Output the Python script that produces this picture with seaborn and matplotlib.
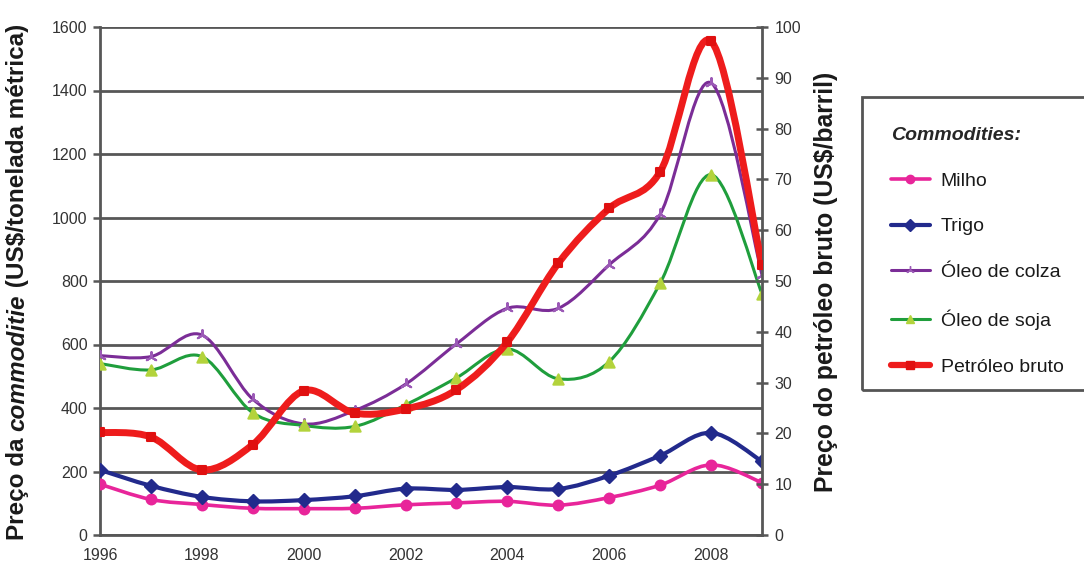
import numpy as np
import pandas as pd
import matplotlib
matplotlib.use("Agg")
import matplotlib.pyplot as plt
import seaborn as sns
from matplotlib.path import Path
from matplotlib.patches import PathPatch, Rectangle
from matplotlib.lines import Line2D

# ---------------- data ----------------
years = [1996, 1997, 1998, 1999, 2000, 2001, 2002, 2003, 2004, 2005, 2006, 2007, 2008, 2009]
milho = [160, 112, 96, 84, 83, 84, 95, 101, 106, 94, 118, 157, 221, 165]
trigo = [205, 155, 120, 106, 110, 122, 146, 142, 151, 145, 187, 250, 322, 232]
oleo_colza = [565, 562, 630, 428, 350, 392, 475, 602, 714, 714, 851, 1010, 1424, 819]
oleo_soja = [540, 520, 562, 385, 345, 342, 410, 495, 586, 492, 546, 793, 1135, 760]
petroleo = [20.2, 19.3, 12.8, 17.8, 28.4, 24.0, 24.8, 28.6, 38.0, 53.5, 64.3, 71.5, 97.2, 53.2]

labels = ["Milho", "Trigo", "Óleo de colza", "Óleo de soja", "Petróleo bruto"]
x_ticks = [1996, 1998, 2000, 2002, 2004, 2006, 2008]
left_ticks = [0, 200, 400, 600, 800, 1000, 1200, 1400, 1600]
right_ticks = [0, 10, 20, 30, 40, 50, 60, 70, 80, 90, 100]

# ---------------- style ----------------
sns.set_theme(style="white")
plt.rcParams['font.family'] = ['Liberation Sans', 'DejaVu Sans']

W, H = 1084, 577
fig = plt.figure(figsize=(W / 100, H / 100), dpi=100)
fig.patch.set_facecolor("white")
ax = fig.add_axes([100 / W, 1 - 535 / H, 662 / W, 508 / H])
ax2 = ax.twinx()

grid_c = "#575757"
tick_c = "#333333"


def smooth_path(x, y):
    """Smooth curve through the data points (Catmull-Rom as cubic Beziers)."""
    x = np.asarray(x, float)
    y = np.asarray(y, float)
    px = np.concatenate([[x[0]], x, [x[-1]]])
    py = np.concatenate([[y[0]], y, [y[-1]]])
    verts = [(x[0], y[0])]
    codes = [Path.MOVETO]
    for i in range(len(x) - 1):
        c1 = (px[i + 1] + (px[i + 2] - px[i]) / 6.0, py[i + 1] + (py[i + 2] - py[i]) / 6.0)
        c2 = (px[i + 2] - (px[i + 3] - px[i + 1]) / 6.0, py[i + 2] - (py[i + 3] - py[i + 1]) / 6.0)
        verts += [c1, c2, (px[i + 2], py[i + 2])]
        codes += [Path.CURVE4] * 3
    return Path(verts, codes)


df = pd.DataFrame({"ano": years, "Milho": milho, "Trigo": trigo,
                   "Óleo de colza": oleo_colza, "Óleo de soja": oleo_soja,
                   "Petróleo bruto": petroleo})

series = [
    # name, axis, line colour, lw, marker, marker face, marker edge, size
    ("Milho", ax, "#e8259a", 2.6, "o", "#e8259a", "#e8259a", 50),
    ("Trigo", ax, "#222a8c", 3.0, "D", "#222a8c", "#222a8c", 45),
    ("Óleo de colza", ax, "#7b2d97", 2.2, (3, 2, 0), "#9b59b6", "#9b59b6", 60),
    ("Óleo de soja", ax, "#1f9e3c", 2.2, "^", "#b3d33c", "#b3d33c", 55),
    ("Petróleo bruto", ax2, "#ee1c1c", 5.0, "s", "#e01010", "#e01010", 28),
]

for name, a, col, lw, mk, mfc, mec, ms in series:
    a.add_patch(PathPatch(smooth_path(df["ano"], df[name]), facecolor="none",
                          edgecolor=col, lw=lw, zorder=3, capstyle="round",
                          joinstyle="round"))
    sns.scatterplot(data=df, x="ano", y=name, ax=a, marker=mk, s=ms,
                    color=mfc, edgecolor=mec, linewidth=1.5, zorder=4, legend=False)

# ---------------- axes ----------------
ax.set_xlim(1996, 2009)
ax.set_ylim(0, 1600)
ax2.set_ylim(0, 100)
ax.set_xticks(x_ticks)
ax.set_xticklabels([str(t) for t in x_ticks])
ax.set_yticks(left_ticks)
ax.set_yticklabels([str(t) for t in left_ticks])
ax2.set_yticks(right_ticks)
ax2.set_yticklabels([str(t) for t in right_ticks])
ax.set_xlabel("")
ax.set_ylabel("")
ax2.set_ylabel("")

ax.yaxis.grid(True, color=grid_c, lw=2.0, zorder=0)
ax.xaxis.grid(False)
ax.set_axisbelow(True)

for a in (ax, ax2):
    a.spines["top"].set_visible(False)
    for s in ("left", "bottom", "right"):
        a.spines[s].set_color(grid_c)
        a.spines[s].set_linewidth(2.0)
ax.spines["right"].set_visible(False)
ax2.spines["left"].set_visible(False)
ax2.spines["bottom"].set_visible(False)

ax.tick_params(axis="both", which="major", labelsize=11.5, labelcolor=tick_c,
               color=grid_c, width=1.8, length=5, direction="out")
ax.tick_params(axis="x", pad=4)
ax.tick_params(axis="y", pad=4)
ax2.tick_params(axis="y", which="major", labelsize=11.5, labelcolor=tick_c,
                color=grid_c, width=1.8, length=8, direction="inout", pad=5)

# ---------------- axis titles ----------------
# left title built from three pieces so only "commoditie" is italic (all bold)
pieces = [("Preço da ", "normal"), ("commoditie", "italic"),
          (" (US$/tonelada métrica)", "normal")]
renderer = fig.canvas.get_renderer()
y_px = 540.0  # bottom end of the rotated title, in pixels from top
for txt, style in pieces:
    t = fig.text(18 / W, 1 - y_px / H, txt, rotation=90, ha="center", va="bottom",
                 fontsize=17.5, fontweight="bold", fontstyle=style,
                 color="#1a1a1a", parse_math=False, rotation_mode="default")
    ext = t.get_window_extent(renderer=renderer)
    y_px -= ext.height * 100.0 / fig.dpi - 0.0

fig.text(826 / W, 1 - 282 / H, "Preço do petróleo bruto (US$/barril)",
         rotation=90, ha="center", va="center", fontsize=17.8,
         fontweight="bold", color="#1a1a1a", parse_math=False)

# ---------------- legend ----------------
fig.add_artist(Rectangle((862 / W, 1 - 390 / H), (1110 - 862) / W, (390 - 97) / H,
                         transform=fig.transFigure, fill=False,
                         edgecolor="#555555", lw=2.0))

handles = []
for name, a, col, lw, mk, mfc, mec, ms in series:
    handles.append(Line2D([0], [0], color=col, lw=min(lw, 4.5), marker=mk,
                          markerfacecolor=mfc, markeredgecolor=mec, markersize=6))

leg = fig.legend(handles, labels, loc="upper left",
                 bbox_to_anchor=(883 / W, 1 - 119 / H), frameon=False,
                 title="Commodities:", alignment="left",
                 title_fontproperties={"weight": "bold", "style": "italic", "size": 14},
                 fontsize=14, labelspacing=1.45, handlelength=2.0,
                 handletextpad=0.57, borderaxespad=0)
for t in leg.get_texts():
    t.set_color("#1a1a1a")

fig.savefig("out.png", dpi=100)
